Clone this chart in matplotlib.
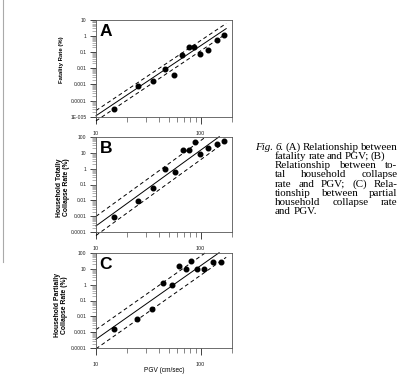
import numpy as np
import matplotlib
matplotlib.use("Agg")
import matplotlib.pyplot as plt
from matplotlib.lines import Line2D
from matplotlib.ticker import FixedLocator, FixedFormatter, NullFormatter

plt.rcParams['font.family'] = ['Liberation Sans', 'DejaVu Sans']

# values (PGV in cm/sec, rate in %)
pgv_a = [14.8, 25.1, 35.1, 45.4, 56.0, 66.4, 76.9, 87.0, 98.0, 116.6, 143.0, 169.0]
rate_a = [3e-5, 0.0008, 0.0017, 0.009, 0.004, 0.065, 0.2, 0.2, 0.083, 0.145, 0.58, 1.17]

pgv_b = [14.8, 25.1, 35.1, 46.1, 56.5, 67.4, 76.9, 87.7, 99.4, 116.6, 143.0, 169.0]
rate_b = [0.0009, 0.009, 0.058, 0.93, 0.6, 15.4, 14.0, 44.7, 8.2, 18.6, 33.0, 54.0]

pgv_c = [14.8, 24.7, 34.4, 43.5, 53.3, 62.7, 72.4, 81.5, 92.2, 108.0, 131.0, 156.0]
rate_c = [0.0016, 0.0066, 0.028, 1.2, 0.93, 14.7, 9.5, 31.6, 9.5, 9.1, 27.4, 25.0]

# regression lines: log10(rate) = a + b*log10(PGV/10), dashed lines = +/- band
fit_a = (-4.94, 4.34, 0.32)
fit_b = (-3.60, 4.75, 0.60)
fit_c = (-3.43, 4.61, 0.60)

yticks_a = [1e-5, 1e-4, 1e-3, 1e-2, 1e-1, 1, 10]
ylabels_a = ['1E-005', '0.0001', '0.001', '0.01', '0.1', '1', '10']
yticks_bc = [1e-4, 1e-3, 1e-2, 1e-1, 1, 10, 100]
ylabels_bc = ['0.0001', '0.001', '0.01', '0.1', '1', '10', '100']

caption = [
    [("Fig.", 'italic'), ("6.", 'italic'), ("(A)", 'normal'), ("Relationship", 'normal'), ("between", 'normal')],
    "fatality rate and PGV; (B)",
    "Relationship between to-",
    "tal household collapse",
    "rate and PGV; (C) Rela-",
    "tionship between partial",
    "household collapse rate",
    "and PGV.",
]

W, H = 400, 377
fig = plt.figure(figsize=(4.0, 3.77), dpi=100)

panels = [
    ("A", pgv_a, rate_a, fit_a, yticks_a, ylabels_a, 20.0, 116.7, "Fatality Rate (%)", 62, 0.59, 4.3),
    ("B", pgv_b, rate_b, fit_b, yticks_bc, ylabels_bc, 136.7, 232.3,
     "Household Totally\nCollapse Rate (%)", 63, 0.47, 4.9),
    ("C", pgv_c, rate_c, fit_c, yticks_bc, ylabels_bc, 252.7, 348.3,
     "Household Partially\nCollapse Rate (%)", 61, 0.45, 4.9),
]

for letter, px, py, fit, yt, yl, top, bot, lab, lab_x, lab_y, lab_fs in panels:
    ax = fig.add_axes([96 / W, 1 - bot / H, 136 / W, (bot - top) / H])
    ax.set_xscale('log')
    ax.set_yscale('log')
    ax.set_xlim(10, 200)
    ax.set_ylim(yt[0], yt[-1])

    ax.plot(px, py, 'o', color='black', markersize=3.3, zorder=3)

    a, b, band = fit
    ytop = np.log10(yt[-1])
    for off, ls in [(0, '-'), (band, (0, (4, 3))), (-band, (0, (4, 3)))]:
        x_end = min(176.0, 10 * 10 ** ((ytop - a - off) / b))
        xs = np.array([10.0, x_end])
        ys = 10 ** (a + off + b * np.log10(xs / 10))
        ax.plot(xs, ys, color='black', lw=0.7, linestyle=ls, clip_on=False, zorder=2)

    ax.xaxis.set_major_locator(FixedLocator([10, 100]))
    ax.xaxis.set_major_formatter(FixedFormatter(['10', '100']))
    ax.xaxis.set_minor_locator(FixedLocator([20, 30, 40, 50, 60, 70, 80, 90, 200]))
    ax.xaxis.set_minor_formatter(NullFormatter())
    ax.yaxis.set_major_locator(FixedLocator(yt))
    ax.yaxis.set_major_formatter(FixedFormatter(yl))
    minors = [m * 10.0 ** e for e in range(int(np.log10(yt[0])), int(np.log10(yt[-1])))
              for m in range(2, 10)]
    ax.yaxis.set_minor_locator(FixedLocator(minors))
    ax.yaxis.set_minor_formatter(NullFormatter())

    ax.tick_params(axis='x', which='major', direction='out', length=5, width=0.6,
                   pad=5, labelsize=3.9, colors='#222222')
    ax.tick_params(axis='x', which='minor', direction='out', length=3.5, width=0.5,
                   colors='#555555')
    ax.tick_params(axis='y', which='major', direction='out', length=4, width=0.6,
                   pad=3, labelsize=3.6, colors='#222222')
    ax.tick_params(axis='y', which='minor', direction='out', length=3, width=0.4,
                   colors='#777777')
    for s in ax.spines.values():
        s.set_linewidth(0.6)
        s.set_color('#555555')

    ax.text(0.025, 0.955, letter, transform=ax.transAxes, fontsize=12.5,
            fontweight='bold', ha='left', va='top')
    fig.text(lab_x / W, 1 - (bot - lab_y * (bot - top)) / H, lab, rotation=90,
             ha='center', va='center', multialignment='center', fontsize=lab_fs,
             fontweight='bold', linespacing=1.05)

fig.text(164 / W, 1 - 371 / H, "PGV (cm/sec)", ha='center', va='center', fontsize=4.7)

# thin border line at the left edge of the scan
fig.add_artist(Line2D([2.5 / W, 2.5 / W], [1.0, 1 - 262 / H], color='#aaaaaa', lw=0.8))

# justified caption
renderer = fig.canvas.get_renderer()
cap_kw = dict(family=['Liberation Serif', 'DejaVu Serif'], fontsize=7.9, va='center')
right_edges = [397.5, 385.0, 397.5, 397.5, 397.5, 397.5, 397.5, None]
for i, line in enumerate(caption):
    y = 147.3 + 9.2 * i
    words = line if isinstance(line, list) else [(w, 'normal') for w in line.split()]
    x0 = 255.0 if i == 0 else 275.0
    texts = [fig.text(0, 1 - y / H, w, style=st, **cap_kw) for w, st in words]
    widths = [t.get_window_extent(renderer).width for t in texts]
    space = texts[0].get_fontsize() * 0.25 * 100 / 72
    x1 = right_edges[i]
    if x1 is not None and len(words) > 1:
        gap = max(space * 0.6, (x1 - x0 - sum(widths)) / (len(words) - 1))
    else:
        gap = space
    x = x0
    for t, w in zip(texts, widths):
        t.set_x(x / W)
        x += w + gap

fig.savefig("out.png", dpi=100)
